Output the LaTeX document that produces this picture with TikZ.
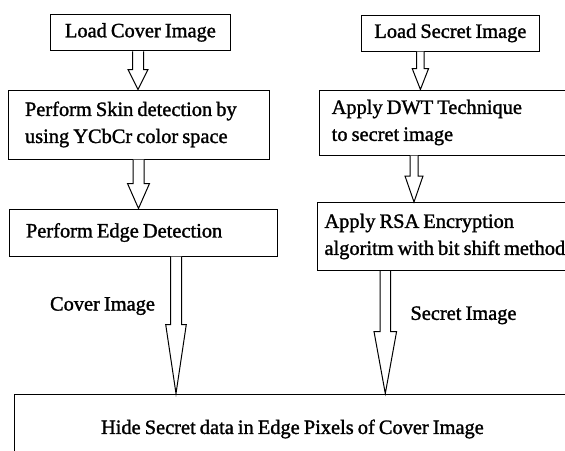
\documentclass[tikz,border=0pt]{standalone}
\usepackage{fontspec}
\setmainfont{Liberation Serif}
\newfontfamily\boxfont{Liberation Serif}[FakeBold=1.4,WordSpace=0.8]
\usepackage{tikz}
\usetikzlibrary{calc}
\newcommand{\hollowarrow}[5]
        {\draw[hollow] let \p1=(#1), \p2=(#2) in (\x1-#3pt,\y1) -- (\x1-#3pt,\y2+#5pt) -- (\x1-#4pt,\y2+#5pt) -- (\x1,\y2) -- (\x1+#4pt,\y2+#5pt) -- (\x1+#3pt,\y2+#5pt) -- (\x1+#3pt,\y1);}

\begin{document}
\begin{tikzpicture}[x=1pt,y=-1pt,line width=1pt,
  box/.style={draw,rectangle,inner sep=0pt,font=\boxfont\fontsize{20.4}{27}\selectfont},
  tag/.style={inner sep=0pt,font=\boxfont\fontsize{20.4}{27}\selectfont},
  hollow/.style={draw,fill=white,line join=miter}]
\useasboundingbox (0,0) rectangle (565,450);
\clip (0,0) rectangle (565,450);

\node[box,minimum width=179.3pt,minimum height=36.7pt] (cover) at (140.4,32.4) {Load Cover Image};
\node[box,inner xsep=17pt,text width=227pt,minimum height=69pt,align=flush left] (skin) at (138.5,124.5) {Perform Skin detection by\\using YCbCr color space};
\node[box,inner xsep=17pt,text width=234pt,minimum height=47pt,align=flush left] (edge) at (143,232.5) {Perform Edge Detection};

\node[box,minimum width=177.3pt,minimum height=36pt] (secret) at (450.4,33) {Load Secret Image};
\node[box,inner xsep=12.7pt,text width=260pt,minimum height=65pt,align=flush left] (dwt) at (461.7,122.5) {Apply DWT Technique\\to secret image};
\node[box,inner xsep=7.5pt,text width=267pt,minimum height=68pt,align=flush left] (rsa) at (458,236.5) {Apply RSA Encryption\\algoritm with bit shift method};

\node[box,minimum width=556pt,minimum height=70pt] (hide) at (292.4,429) {Hide Secret data in Edge Pixels of Cover Image};

\hollowarrow{$(cover.south)+(-2.4,0)$}{skin.north}{5.5}{10}{20}
\hollowarrow{skin.south}{edge.north}{5.5}{11}{25}
\hollowarrow{$(edge.south)+(33,0)$}{hide.north}{5.5}{10.3}{69}
\hollowarrow{$(secret.south)+(-30,0)$}{dwt.north}{3.7}{8.2}{21}
\hollowarrow{$(dwt.south)+(-47.7,0)$}{rsa.north}{4}{9}{26}
\hollowarrow{$(rsa.south)+(-72.7,0)$}{hide.north}{5.3}{11.3}{62}

\node[tag] (covertag) at (102.5,306) {Cover Image};
\node[tag] (secrettag) at (463.5,315.3) {Secret Image};
\end{tikzpicture}
\end{document}
